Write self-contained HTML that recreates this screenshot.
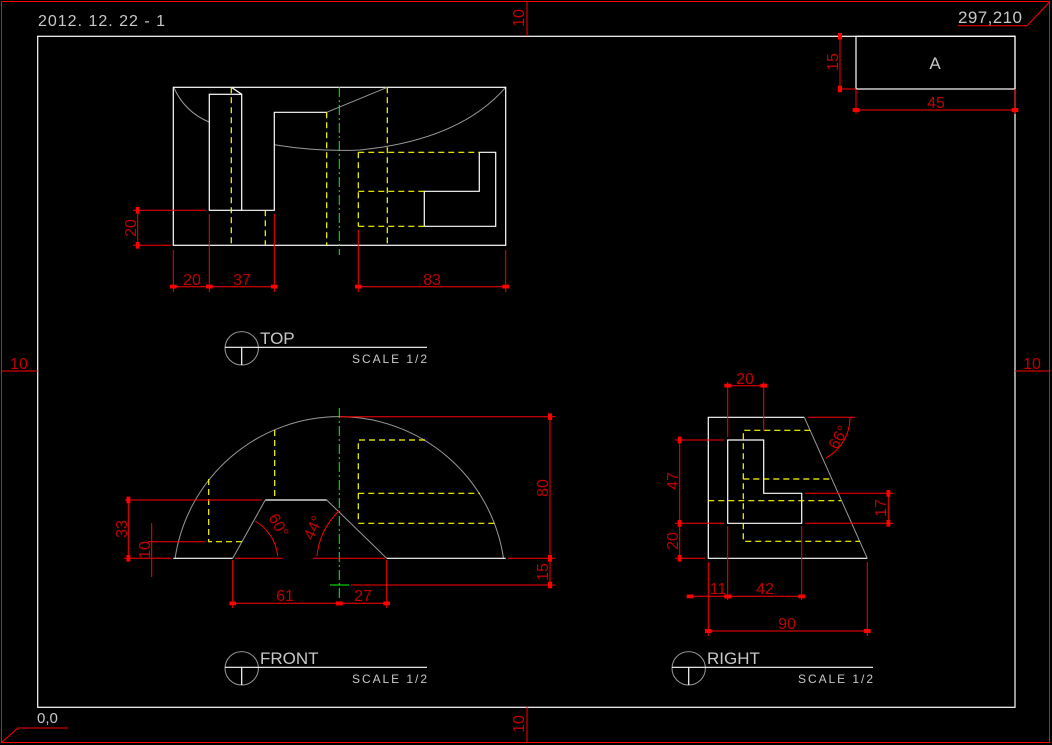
<!DOCTYPE html>
<html><head><meta charset="utf-8"><style>
html,body{margin:0;padding:0;background:#000;}
svg{display:block;}
text{font-family:"Liberation Sans",sans-serif;}
.w{stroke:#fff;stroke-width:1.2;fill:none}
.g{stroke:#9a9a9a;stroke-width:1;fill:none}
.y{stroke:#ffff00;stroke-width:1.2;fill:none;stroke-dasharray:6 4}
.gc{stroke:#00ff00;stroke-width:1;fill:none;stroke-dasharray:10 3 2 3}
.r{stroke:#ff0000;stroke-width:1;fill:none}
.d{stroke:#ff0000;stroke-width:1;fill:none;marker-start:url(#a);marker-end:url(#a)}
.t{fill:#c00000;font-size:16px;text-anchor:middle}
.lt{fill:#c8c8c8}
</style></head><body>
<svg width="1052" height="745" viewBox="0 0 1052 745" xmlns="http://www.w3.org/2000/svg">
<defs>
<marker id="a" viewBox="0 0 10 6" refX="5" refY="3" markerWidth="8" markerHeight="4" orient="auto-start-reverse"><rect x="0" y="0" width="10" height="6" fill="#ff0000"/></marker>
</defs>
<rect width="1052" height="745" fill="#000"/>
<!-- outer red border -->
<rect x="1.5" y="1.5" width="1048" height="741" class="r"/>
<!-- white frame -->
<rect x="37.7" y="36.3" width="977.3" height="671" class="w"/>
<text x="38" y="26" class="lt" font-size="16" textLength="127">2012. 12. 22 - 1</text>
<!-- 10 markers -->
<line x1="527" y1="1" x2="527" y2="36" class="r"/>
<text transform="translate(524,18) rotate(-90)" class="t" font-size="15">10</text>
<line x1="527" y1="707" x2="527" y2="743" class="r"/>
<text transform="translate(524,724) rotate(-90)" class="t" font-size="15">10</text>
<line x1="1" y1="371" x2="37.7" y2="371" class="r"/>
<text x="19" y="369" class="t" font-size="15">10</text>
<line x1="1015" y1="371" x2="1050" y2="371" class="r"/>
<text x="1032" y="369" class="t" font-size="15">10</text>
<!-- 297,210 -->
<text x="958" y="23" class="lt" font-size="17" textLength="64">297,210</text>
<polyline points="958,25.7 1027,25.7 1050,1.5" class="r"/>
<!-- 0,0 -->
<text x="37" y="723" class="lt" font-size="15">0,0</text>
<polyline points="68,728 18,728 2,742" class="r"/>
<!-- title box -->
<rect x="856" y="36.3" width="159" height="52.7" class="w"/>
<text x="935" y="69" class="lt" font-size="17" text-anchor="middle">A</text>
<line x1="840" y1="36.3" x2="840" y2="89" class="d"/>
<line x1="838" y1="89" x2="856" y2="89" class="r"/>
<text transform="translate(838,62) rotate(-90)" class="t">15</text>
<line x1="856" y1="110" x2="1015" y2="110" class="d"/>
<line x1="856" y1="89" x2="856" y2="114" class="r"/>
<line x1="1015" y1="89" x2="1015" y2="114" class="r"/>
<text x="936" y="108" class="t">45</text>

<!-- ===== TOP VIEW ===== -->
<path d="M174,88 Q185,112 209,122" class="g"/>
<path d="M274.3,144.7 Q320,152 360,150 Q460,140 505.7,87.3" class="g"/>
<rect x="173.3" y="87.3" width="332.4" height="158" class="w"/>
<rect x="209.3" y="94.3" width="32.4" height="116" class="w"/>
<line x1="231.3" y1="87.3" x2="241.7" y2="94.3" class="w"/>
<polyline points="241.7,210.3 274.3,210.3 274.3,112.3 326.7,112.3" class="w"/>
<line x1="326.7" y1="112.3" x2="387.3" y2="87.3" class="g"/>
<line x1="231.3" y1="87.3" x2="231.3" y2="245" class="y"/>
<line x1="265.3" y1="210.3" x2="265.3" y2="245" class="y"/>
<line x1="326.7" y1="112.3" x2="326.7" y2="245" class="y"/>
<line x1="387.3" y1="87.3" x2="387.3" y2="245" class="y"/>
<line x1="339.3" y1="87" x2="339.3" y2="255" class="gc"/>
<polyline points="479.3,152.3 495.7,152.3 495.7,226.3 424.3,226.3" class="w"/>
<polyline points="479.3,152.3 479.3,191.3 424.3,191.3 424.3,226.3" class="w"/>
<line x1="358.3" y1="152.3" x2="479.3" y2="152.3" class="y"/>
<line x1="358.3" y1="152.3" x2="358.3" y2="226.3" class="y"/>
<line x1="358.3" y1="191.3" x2="424.3" y2="191.3" class="y"/>
<line x1="358.3" y1="226.3" x2="424.3" y2="226.3" class="y"/>
<!-- dims top -->
<line x1="133" y1="210.3" x2="206" y2="210.3" class="r"/>
<line x1="133" y1="245.3" x2="171" y2="245.3" class="r"/>
<line x1="137.7" y1="210.3" x2="137.7" y2="245.3" class="d"/>
<text transform="translate(136,228) rotate(-90)" class="t">20</text>
<line x1="173.3" y1="250" x2="173.3" y2="292" class="r"/>
<line x1="209.3" y1="214" x2="209.3" y2="292" class="r"/>
<line x1="274.3" y1="214" x2="274.3" y2="292" class="r"/>
<line x1="358.3" y1="230" x2="358.3" y2="292" class="r"/>
<line x1="505.7" y1="250" x2="505.7" y2="292" class="r"/>
<line x1="173.3" y1="286.7" x2="209.3" y2="286.7" class="d"/>
<line x1="209.3" y1="286.7" x2="274.3" y2="286.7" class="d"/>
<line x1="358.3" y1="286.7" x2="505.7" y2="286.7" class="d"/>
<text x="192" y="285" class="t">20</text>
<text x="242" y="285" class="t">37</text>
<text x="432" y="285" class="t">83</text>
<!-- TOP label -->
<circle cx="241.7" cy="348.3" r="16.7" class="g" stroke="#c8c8c8"/>
<line x1="225" y1="347.3" x2="427" y2="347.3" class="w"/>
<line x1="241.7" y1="347.3" x2="241.7" y2="365" class="w"/>
<text x="260" y="344" class="lt" font-size="17">TOP</text>
<text x="352" y="363" class="lt" font-size="12" textLength="75">SCALE 1/2</text>

<!-- ===== FRONT VIEW ===== -->
<path d="M175.1,558.3 A166,166 0 0 1 503.5,558.3" class="g"/>
<line x1="173.3" y1="558.3" x2="232.7" y2="558.3" class="w"/>
<line x1="386.7" y1="558.3" x2="505.7" y2="558.3" class="w"/>
<line x1="265.3" y1="500" x2="326.7" y2="500" class="w"/>
<line x1="232.7" y1="558.3" x2="265.3" y2="500" class="g"/>
<line x1="326.7" y1="500" x2="386.7" y2="558.3" class="g"/>
<polyline points="208.7,479 208.7,541.7 242,541.7" class="y"/>
<line x1="274.7" y1="430" x2="274.7" y2="500" class="y"/>
<polyline points="425,440 358.3,440 358.3,523.3 496,523.3" class="y"/>
<line x1="358.3" y1="493.3" x2="480" y2="493.3" class="y"/>
<line x1="339.3" y1="408" x2="339.3" y2="600" class="gc"/>
<line x1="330" y1="585" x2="349" y2="585" stroke="#00ff00"/>
<!-- dims front -->
<line x1="340" y1="416.7" x2="555" y2="416.7" class="r"/>
<line x1="508" y1="558.3" x2="555" y2="558.3" class="r"/>
<line x1="351" y1="585" x2="555" y2="585" class="r"/>
<line x1="550" y1="416.7" x2="550" y2="558.3" class="d"/>
<line x1="550" y1="558.3" x2="550" y2="585" class="d"/>
<text transform="translate(548,488) rotate(-90)" class="t">80</text>
<text transform="translate(548,572) rotate(-90)" class="t">15</text>
<line x1="125" y1="500" x2="262" y2="500" class="r"/>
<line x1="124" y1="558.3" x2="171" y2="558.3" class="r"/>
<line x1="128.3" y1="500" x2="128.3" y2="558.3" class="d"/>
<text transform="translate(127,529) rotate(-90)" class="t">33</text>
<line x1="148" y1="541.7" x2="205" y2="541.7" class="r"/>
<line x1="151.7" y1="523" x2="151.7" y2="577" class="r"/>
<text transform="translate(150,550) rotate(-90)" class="t">10</text>
<line x1="235" y1="558.3" x2="282.7" y2="558.3" class="r"/>
<line x1="312.7" y1="558.3" x2="385" y2="558.3" class="r"/>
<path d="M277.7,556 A45,45 0 0 0 255,521" class="r"/>
<text transform="translate(274,528) rotate(60)" class="t">60°</text>
<path d="M317,556 A70,70 0 0 1 339,511" class="r"/>
<text transform="translate(318,530) rotate(-65)" class="t">44°</text>
<line x1="232.7" y1="560" x2="232.7" y2="608" class="r"/>
<line x1="386.7" y1="560" x2="386.7" y2="608" class="r"/>
<line x1="232.7" y1="603.3" x2="339.3" y2="603.3" class="d"/>
<line x1="339.3" y1="603.3" x2="386.7" y2="603.3" class="d"/>
<text x="285" y="601" class="t">61</text>
<text x="363" y="601" class="t">27</text>
<!-- FRONT label -->
<circle cx="241.7" cy="668.3" r="16.7" class="g" stroke="#c8c8c8"/>
<line x1="225" y1="667.3" x2="427" y2="667.3" class="w"/>
<line x1="241.7" y1="667.3" x2="241.7" y2="685" class="w"/>
<text x="260" y="664" class="lt" font-size="17">FRONT</text>
<text x="352" y="683" class="lt" font-size="12" textLength="75">SCALE 1/2</text>

<!-- ===== RIGHT VIEW ===== -->
<polyline points="804.3,417.3 708.3,417.3 708.3,558.3 867.3,558.3" class="w"/>
<line x1="804.3" y1="417.3" x2="867.3" y2="558.3" class="g"/>
<polygon points="727.7,440 763.7,440 763.7,493.3 801.7,493.3 801.7,523.3 727.7,523.3" class="w"/>
<polyline points="810.3,430.3 743.3,430.3 743.3,541.3 860,541.3" class="y"/>
<line x1="743.3" y1="479" x2="832" y2="479" class="y"/>
<line x1="708.3" y1="500.7" x2="841" y2="500.7" class="y"/>
<!-- dims right -->
<line x1="727.7" y1="382" x2="727.7" y2="437" class="r"/>
<line x1="763.7" y1="382" x2="763.7" y2="431" class="r"/>
<line x1="727.7" y1="385.7" x2="763.7" y2="385.7" class="d"/>
<text x="745" y="384" class="t">20</text>
<line x1="675" y1="440" x2="724" y2="440" class="r"/>
<line x1="675" y1="523.3" x2="724" y2="523.3" class="r"/>
<line x1="675" y1="558.3" x2="705" y2="558.3" class="r"/>
<line x1="679.7" y1="440" x2="679.7" y2="523.3" class="d"/>
<line x1="679.7" y1="523.3" x2="679.7" y2="558.3" class="d"/>
<text transform="translate(678,481) rotate(-90)" class="t">47</text>
<text transform="translate(678,541) rotate(-90)" class="t">20</text>
<line x1="805" y1="493.3" x2="893" y2="493.3" class="r"/>
<line x1="805" y1="523.3" x2="893" y2="523.3" class="r"/>
<line x1="888.3" y1="493.3" x2="888.3" y2="523.3" class="d"/>
<text transform="translate(886,508) rotate(-90)" class="t">17</text>
<line x1="808" y1="417.3" x2="855" y2="417.3" class="r"/>
<path d="M850,418 A46,46 0 0 1 826,458" class="r"/>
<text transform="translate(843,440) rotate(-60)" class="t">66°</text>
<line x1="708.3" y1="562" x2="708.3" y2="636" class="r"/>
<line x1="727.7" y1="526" x2="727.7" y2="600" class="r"/>
<line x1="801.7" y1="526" x2="801.7" y2="600" class="r"/>
<line x1="867.3" y1="562" x2="867.3" y2="636" class="r"/>
<line x1="690" y1="596.3" x2="727.7" y2="596.3" class="d"/>
<line x1="727.7" y1="596.3" x2="801.7" y2="596.3" class="d"/>
<text x="718" y="594" class="t">11</text>
<text x="765" y="594" class="t">42</text>
<line x1="708.3" y1="631" x2="867.3" y2="631" class="d"/>
<text x="787" y="629" class="t">90</text>
<!-- RIGHT label -->
<circle cx="688.7" cy="668.3" r="16.7" class="g" stroke="#c8c8c8"/>
<line x1="672" y1="667.3" x2="873" y2="667.3" class="w"/>
<line x1="688.7" y1="667.3" x2="688.7" y2="685" class="w"/>
<text x="707" y="664" class="lt" font-size="17">RIGHT</text>
<text x="798" y="683" class="lt" font-size="12" textLength="75">SCALE 1/2</text>
</svg>
</body></html>
